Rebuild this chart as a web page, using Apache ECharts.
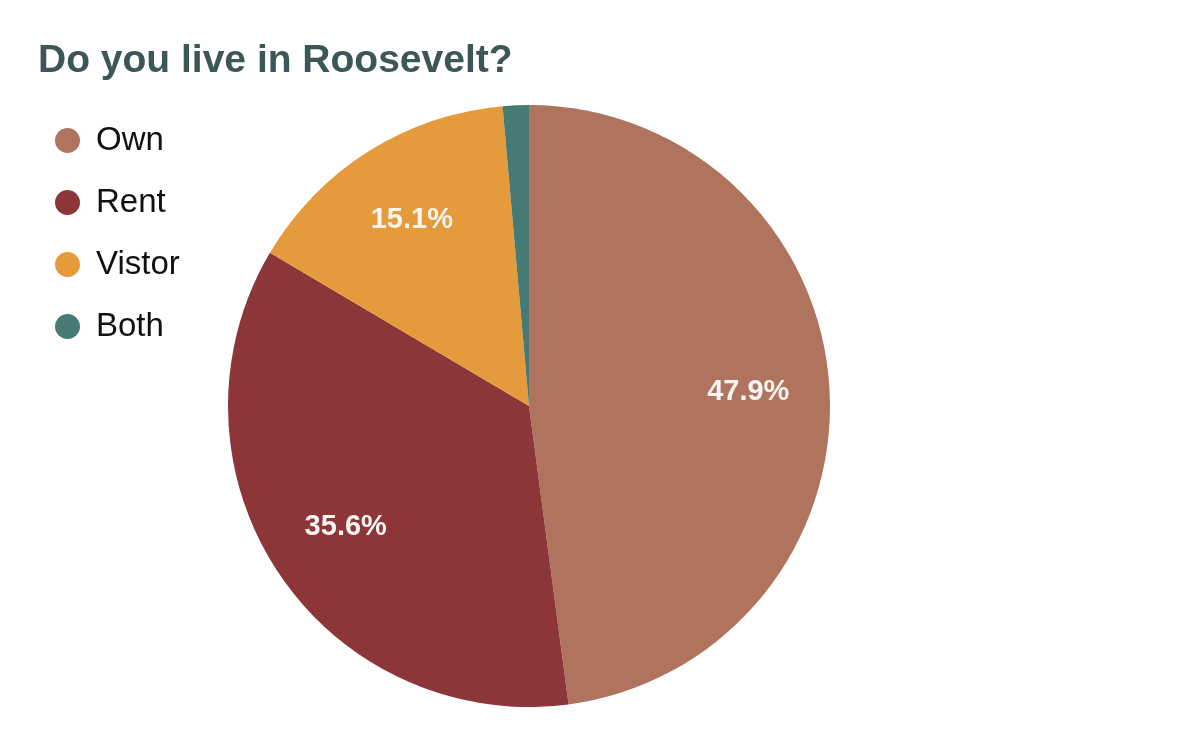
<!DOCTYPE html>
<html>
<head>
<meta charset="utf-8">
<script src="https://cdn.jsdelivr.net/npm/echarts@6/dist/echarts.min.js"></script>
<style>html,body{margin:0;padding:0;background:#fff}#c{width:1200px;height:742px}</style>
</head>
<body>
<div id="c"></div>
<script>
const titleText = "Do you live in Roosevelt?";
const categories = ["Own", "Rent", "Vistor", "Both"];
const values = [47.9, 35.6, 15.1, 1.4];
const colors = ["#b0735e", "#8c363a", "#e59a3c", "#467a75"];
const showLabel = [true, true, true, false];

const FONT = "'Liberation Sans', Arial, sans-serif";
const chart = echarts.init(document.getElementById('c'), null, {renderer: 'canvas'});
const pieData = categories.map((c, i) => ({name: c, value: values[i], itemStyle: {color: colors[i]}}));
const labelData = categories.map((c, i) => ({name: c, value: values[i], label: {show: showLabel[i]}}));
const R = 301;
chart.setOption({
  animation: false,
  title: {
    text: titleText, left: 33, top: 37,
    textStyle: {fontFamily: FONT, fontSize: 39, fontWeight: 'bold', color: '#3d5656'}
  },
  legend: {
    orient: 'vertical', left: 50, top: 119, icon: 'circle', itemWidth: 25, itemHeight: 25, itemGap: 29,
    data: categories,
    textStyle: {fontFamily: FONT, fontSize: 33, color: '#111', padding: [0, 0, 0, 11]}
  },
  series: [
    {
      type: 'pie', center: [529, 406], radius: [0, R], startAngle: 90, clockwise: true,
      label: {show: false}, labelLine: {show: false},
      itemStyle: {borderWidth: 0},
      emphasis: {disabled: true},
      data: pieData
    },
    {
      type: 'pie', center: [529, 406], radius: [R * 0.44, R], startAngle: 90, clockwise: true, silent: true,
      legendHoverLink: false,
      itemStyle: {color: 'rgba(0,0,0,0)', borderWidth: 0},
      label: {show: true, position: 'inside', formatter: p => p.value.toFixed(1) + '%',
        fontFamily: FONT, fontSize: 29, fontWeight: 'bold', color: '#f8f4f0'},
      labelLine: {show: false},
      emphasis: {disabled: true},
      data: labelData
    }
  ]
});
</script>
</body>
</html>
